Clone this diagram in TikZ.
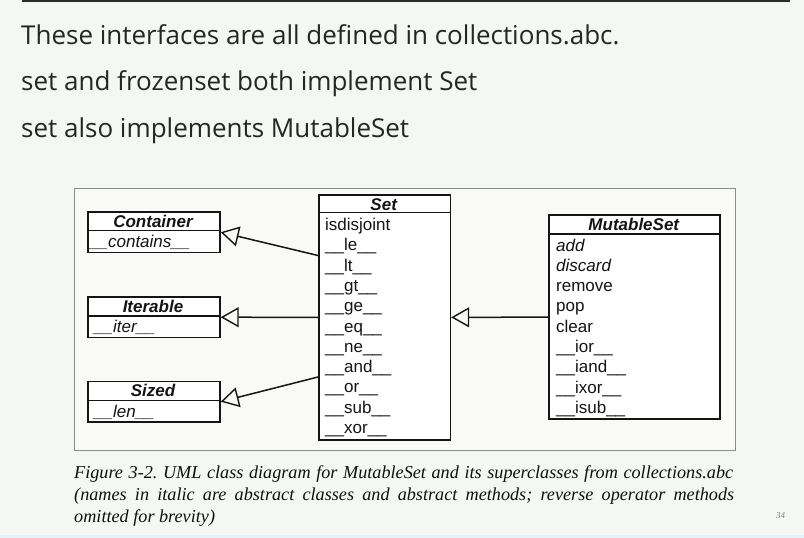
\documentclass[tikz,border=0pt]{standalone}
\usepackage{fontspec}
\setmainfont{Liberation Sans}
\newfontfamily\slidefont{Open Sans}
\newfontfamily\capfont{Liberation Serif}
\usetikzlibrary{arrows.meta}
\definecolor{bg}{HTML}{F4F7F3}
\definecolor{figbg}{HTML}{F9FAF8}
\definecolor{figborder}{HTML}{8A8C8A}
\definecolor{rulecol}{HTML}{2A2E2A}
\definecolor{txt}{HTML}{262626}
\definecolor{captxt}{HTML}{101010}
\definecolor{boxline}{HTML}{141414}
\definecolor{strip}{HTML}{E6F2F8}
\tikzset{
  slide/.style={font=\slidefont\fontsize{26}{32}\selectfont, text=txt, inner sep=0, anchor=base west},
  umlbox/.style={draw=boxline, line width=1.7pt, anchor=north west, inner sep=0, fill=white},
  hdr/.style={font=\fontsize{17}{20}\selectfont\bfseries\itshape, text=boxline, inner sep=0, anchor=base},
  item/.style={font=\fontsize{17}{20}\selectfont, text=boxline, inner sep=0, anchor=base west},
  aitem/.style={item, font=\fontsize{17}{20}\selectfont\itshape},
  inh/.style={draw=boxline, line width=1.5pt, -{Triangle[open, length=18pt, width=20pt, line width=1.4pt]}},
  captext/.style={font=\capfont\itshape\fontsize{18.2}{22}\selectfont\frenchspacing, text=captxt, inner sep=0, anchor=base west},
}
\begin{document}
\begin{tikzpicture}[x=1pt,y=-1pt]
\useasboundingbox (0,0) rectangle (804,538);
\fill[bg] (0,0) rectangle (804,538);
\fill[strip] (0,535) rectangle (804,538);
\coordinate (r1) at (22,1);
\coordinate (r2) at (790,1);
\draw[line width=2pt, rulecol] (r1) -- (r2);

\node[slide] (t1) at (21,44) {These interfaces are all defined in collections.abc.};
\node[slide] (t2) at (21,90) {set and frozenset both implement Set};
\node[slide] (t3) at (21,137) {set also implements MutableSet};

% figure frame
\node[draw=figborder, line width=1.3pt, fill=figbg, minimum width=661, minimum height=262, anchor=north west, inner sep=0] (fig) at (73.5,187.5) {};

% Container
\node[umlbox, minimum width=132, minimum height=40.7] (container) at (87,211) {};
\coordinate (cd1) at (87,230.7); \coordinate (cd2) at (219,230.7);
\draw[boxline, line width=1.5pt] (cd1) -- (cd2);
\node[hdr] (containerh) at (153,227.3) {Container};
\node[aitem] (containerb) at (89,247) {\_\_contains\_\_};

% Iterable
\node[umlbox, minimum width=132, minimum height=40.7] (iterable) at (87,296) {};
\coordinate (id1) at (87,316); \coordinate (id2) at (219,316);
\draw[boxline, line width=1.5pt] (id1) -- (id2);
\node[hdr] (iterableh) at (153,312) {Iterable};
\node[aitem] (iterableb) at (94,332.5) {\_\_iter\_\_};

% Sized
\node[umlbox, minimum width=132, minimum height=40.3] (sized) at (87,380.7) {};
\coordinate (zd1) at (87,400.7); \coordinate (zd2) at (219,400.7);
\draw[boxline, line width=1.5pt] (zd1) -- (zd2);
\node[hdr] (sizedh) at (153,396.7) {Sized};
\node[aitem] (sizedb) at (94,417) {\_\_len\_\_};

% Set
\node[umlbox, minimum width=131.5, minimum height=245] (set) at (318,194) {};
\coordinate (sd1) at (318,212.7); \coordinate (sd2) at (449.5,212.7);
\draw[boxline, line width=1.5pt] (sd1) -- (sd2);
\node[hdr] (seth) at (383.7,210) {Set};
\foreach \t [count=\i] in {isdisjoint,\_\_le\_\_,\_\_lt\_\_,\_\_gt\_\_,\_\_ge\_\_,\_\_eq\_\_,\_\_ne\_\_,\_\_and\_\_,\_\_or\_\_,\_\_sub\_\_,\_\_xor\_\_}
  \node[item] (s\i) at (325,{230.5+(\i-1)*20.3}) {\t};

% MutableSet
\node[umlbox, minimum width=171, minimum height=204] (mutable) at (548.3,214.3) {};
\coordinate (md1) at (548.3,234); \coordinate (md2) at (719.3,234);
\draw[boxline, line width=1.5pt] (md1) -- (md2);
\node[hdr] (mutableh) at (633.8,230) {MutableSet};
\node[aitem] (m1) at (556,251) {add};
\node[aitem] (m2) at (556,271.3) {discard};
\foreach \t [count=\i from 3] in {remove,pop,clear,\_\_ior\_\_,\_\_iand\_\_,\_\_ixor\_\_,\_\_isub\_\_}
  \node[item] (m\i) at (556,{251+(\i-1)*20.3}) {\t};

% inheritance arrows
\coordinate (sA) at (318,255.5);
\coordinate (sC) at (318,377);
\draw[inh] (sA) -- (container.east);
\draw[inh] (set.west) -- (iterable.east);
\draw[inh] (sC) -- (sized.east);
\draw[inh] (mutable.west) -- (set.east);

% caption
\node[captext] (c1) at (74,478) {\makebox[659pt][s]{Figure 3-2. UML class diagram for MutableSet and its superclasses from collections.abc}};
\node[captext] (c2) at (74,500) {\makebox[660pt][s]{(names in italic are abstract classes and abstract methods; reverse operator methods}};
\node[captext] (c3) at (74,522) {omitted for brevity)};

\node[font=\capfont\itshape\fontsize{9}{10}\selectfont, text=gray, inner sep=0, anchor=base west] (pg) at (776,518) {34};
\end{tikzpicture}
\end{document}
